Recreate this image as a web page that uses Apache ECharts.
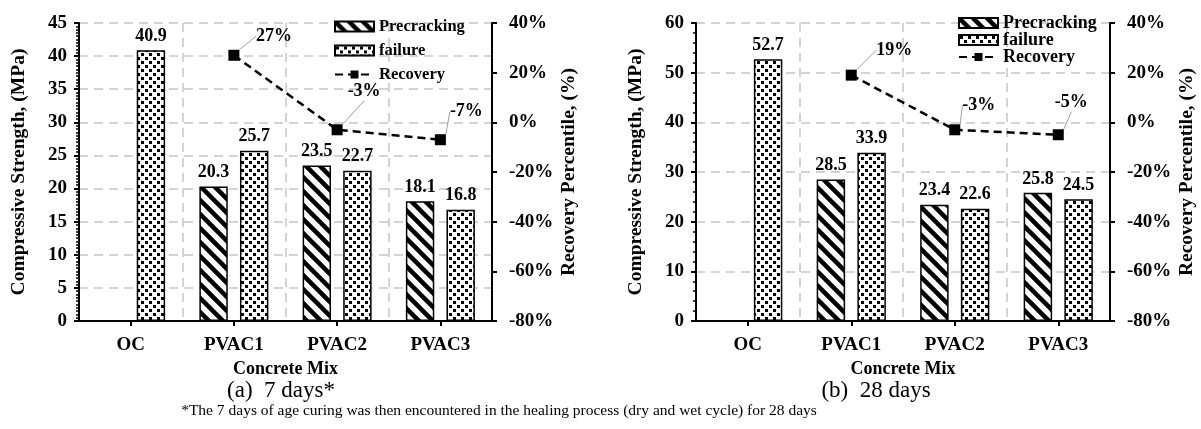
<!DOCTYPE html>
<html><head><meta charset="utf-8">
<script src="https://cdn.jsdelivr.net/npm/echarts@6/dist/echarts.min.js"></script>
<style>html,body{margin:0;padding:0;background:#fff}#c{width:1201px;height:429px}</style>
</head><body><div id="c"></div>
<script>
// ---- data ----
const categories = ['OC', 'PVAC1', 'PVAC2', 'PVAC3'];
const precracking7 = [null, 20.3, 23.5, 18.1];
const failure7 = [40.9, 25.7, 22.7, 16.8];
const recovery7 = [null, 27, -3, -7];
const precracking28 = [null, 28.5, 23.4, 25.8];
const failure28 = [52.7, 33.9, 22.6, 24.5];
const recovery28 = [null, 19, -3, -5];
const strengthTicks7 = [0, 5, 10, 15, 20, 25, 30, 35, 40, 45];
const strengthTicks28 = [0, 10, 20, 30, 40, 50, 60];
const percentTicks = [-80, -60, -40, -20, 0, 20, 40];
const seriesNames = ['Precracking', 'failure', 'Recovery'];
const captionA = '(a)  7 days*';
const captionB = '(b)  28 days';
const footnote = '*The 7 days of age curing was then encountered in the healing process (dry and wet cycle) for 28 days';

// ---- styles ----
const FONT = "'Liberation Serif', 'Times New Roman', serif";
function stripePattern() {
  const s = 14, c = document.createElement('canvas');
  c.width = s; c.height = s;
  const g = c.getContext('2d');
  g.fillStyle = '#fff'; g.fillRect(0, 0, s, s);
  g.strokeStyle = '#000'; g.lineWidth = 4.5;
  for (let k = -1; k <= 1; k++) {
    g.beginPath(); g.moveTo(k * s - 2, -2); g.lineTo(k * s + s + 2, s + 2); g.stroke();
  }
  return { image: c, repeat: 'repeat' };
}
function dotPattern() {
  const s = 8, c = document.createElement('canvas');
  c.width = s; c.height = s;
  const g = c.getContext('2d');
  g.fillStyle = '#fff'; g.fillRect(0, 0, s, s);
  g.fillStyle = '#000';
  g.fillRect(1, 1, 3, 3); g.fillRect(5, 5, 3, 3);
  return { image: c, repeat: 'repeat' };
}
const stripe = stripePattern(), dots = dotPattern();
const gridDash = { color: '#c6c6c6', width: 1.5, type: [9, 6] };
function bold(fs) { return { fontFamily: FONT, fontWeight: 'bold', fontSize: fs, color: '#000' }; }

function range(t) { return { min: t[0], max: t[t.length - 1], interval: t[1] - t[0] }; }

function xAxis(idx) {
  return {
    type: 'category', gridIndex: idx, data: categories,
    axisLine: { lineStyle: { color: '#000', width: 2 } },
    axisTick: { show: true, alignWithLabel: true, length: 5, lineStyle: { color: '#000', width: 2 } },
    axisLabel: Object.assign({ margin: 15 }, bold(19)),
    splitLine: { show: true, lineStyle: gridDash },
    name: 'Concrete Mix', nameLocation: 'middle', nameGap: 36,
    nameTextStyle: bold(18)
  };
}
function yLeft(idx, ticks, minorSplit) {
  return Object.assign(range(ticks), {
    type: 'value', gridIndex: idx, position: 'left',
    axisLine: { show: true, lineStyle: { color: '#000', width: 2 } },
    axisTick: { show: true, length: 5, lineStyle: { color: '#000', width: 2 } },
    minorTick: { show: true, splitNumber: minorSplit, length: 3, lineStyle: { color: '#000', width: 1.5 } },
    axisLabel: Object.assign({ margin: 12 }, bold(19)),
    splitLine: { show: true, lineStyle: gridDash },
    name: 'Compressive Strength, (MPa)', nameLocation: 'middle', nameGap: 50, nameRotate: 90,
    nameTextStyle: bold(19.5)
  });
}
function yRight(idx) {
  return Object.assign(range(percentTicks), {
    type: 'value', gridIndex: idx, position: 'right',
    axisLine: { show: true, lineStyle: { color: '#000', width: 2 } },
    axisTick: { show: true, length: 5, lineStyle: { color: '#000', width: 2 } },
    axisLabel: Object.assign({ margin: 17, formatter: '{value}%' }, bold(19)),
    splitLine: { show: false },
    name: 'Recovery Percentile, (%)', nameLocation: 'middle', nameGap: 67, nameRotate: 90,
    nameTextStyle: bold(19.5)
  });
}
const labelOffsets7 = [[0, 0], [40, -19], [27, -38], [26, -28]];
const labelOffsets28 = [[0, 0], [43, -25], [24, -24], [13, -32]];

function barSeries(name, data, fill, idx) {
  return {
    name: name, type: 'bar', xAxisIndex: idx, yAxisIndex: idx * 2, data: data,
    barWidth: '27.5%', barGap: '43%',
    itemStyle: { color: fill, borderColor: '#000', borderWidth: 1.5 },
    label: Object.assign({ show: true, position: 'top', distance: 5 }, bold(18)),
    emphasis: { disabled: true }
  };
}
function lineSeries(data, idx, offs) {
  return {
    name: seriesNames[2], type: 'line', xAxisIndex: idx, yAxisIndex: idx * 2 + 1, data: data,
    symbol: 'rect', symbolSize: 11,
    lineStyle: { color: '#000', width: 2.5, type: [8, 5] },
    itemStyle: { color: '#000' },
    label: Object.assign({ show: true, position: 'inside', formatter: p => p.value + '%' }, bold(18)),
    labelLine: { show: true, lineStyle: { color: '#a0a0a0', width: 1 } },
    labelLayout: p => ({ dx: offs[p.dataIndex][0], dy: offs[p.dataIndex][1] }),
    emphasis: { disabled: true }, z: 5
  };
}
function legend(left, top, fs, lh, gap) {
  return {
    left: left, top: top, orient: 'vertical', selectedMode: false,
    itemWidth: 39, itemHeight: 10, itemGap: gap,
    data: [{ name: seriesNames[0], icon: 'rect' }, { name: seriesNames[1], icon: 'rect' }, { name: seriesNames[2] }],
    textStyle: { fontFamily: FONT, fontWeight: 'bold', fontSize: fs, lineHeight: lh, color: '#000' }
  };
}

const chart = echarts.init(document.getElementById('c'), null, { renderer: 'canvas' });
chart.setOption({
  animation: false,
  backgroundColor: '#fff',
  grid: [
    { left: 79, top: 23, width: 413, height: 298 },
    { left: 696, top: 23, width: 414, height: 298 }
  ],
  legend: [legend(329, 13, 16.5, 16, 7), legend(953, 9, 18, 17, -1)],
  xAxis: [xAxis(0), xAxis(1)],
  yAxis: [yLeft(0, strengthTicks7, 10), yRight(0), yLeft(1, strengthTicks28, 5), yRight(1)],
  series: [
    barSeries(seriesNames[0], precracking7, stripe, 0),
    barSeries(seriesNames[1], failure7, dots, 0),
    lineSeries(recovery7, 0, labelOffsets7),
    barSeries(seriesNames[0], precracking28, stripe, 1),
    barSeries(seriesNames[1], failure28, dots, 1),
    lineSeries(recovery28, 1, labelOffsets28)
  ],
  graphic: [
    { type: 'text', x: 281, y: 391, style: { text: captionA, font: '23px ' + FONT, fill: '#000', align: 'center', verticalAlign: 'middle', textAlign: 'center', textVerticalAlign: 'middle' } },
    { type: 'text', x: 876, y: 391, style: { text: captionB, font: '23px ' + FONT, fill: '#000', align: 'center', verticalAlign: 'middle', textAlign: 'center', textVerticalAlign: 'middle' } },
    { type: 'text', x: 499, y: 411, style: { text: footnote, font: '15.5px ' + FONT, fill: '#000', align: 'center', verticalAlign: 'middle', textAlign: 'center', textVerticalAlign: 'middle' } }
  ]
});
</script></body></html>
